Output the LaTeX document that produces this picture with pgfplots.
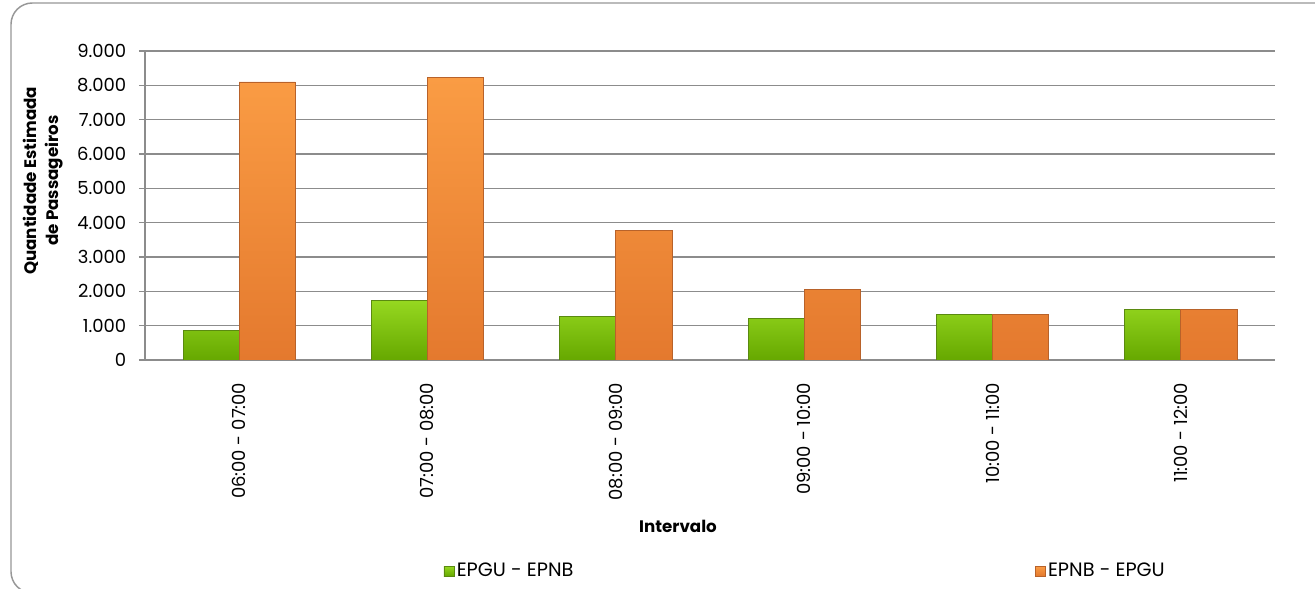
\documentclass[border=0pt]{standalone}
\usepackage{pgfplots}
\pgfplotsset{compat=1.18}
\usepackage{fontspec}
\setmainfont{Poppins}
\definecolor{gridgray}{HTML}{8C8C8C}
\definecolor{gtop}{HTML}{96D820}
\definecolor{gbot}{HTML}{66A800}
\definecolor{gedge}{HTML}{5A8A10}
\definecolor{otop}{HTML}{FA9C44}
\definecolor{obot}{HTML}{E4792E}
\definecolor{oedge}{HTML}{B8622A}
\begin{document}
\begin{tikzpicture}
\useasboundingbox (0pt,0pt) rectangle (986.25pt,441.75pt);
\draw[gridgray!90, line width=1.1pt, rounded corners=16pt] (997.5pt,439.5pt) -- (8.25pt,439.5pt) -- (8.25pt,-3pt) -- (60pt,-3pt);
\begin{axis}[
  at={(108.75pt,171.75pt)}, anchor=south west,
  scale only axis, width=847.5pt, height=231.75pt,
  xmin=-0.5, xmax=5.5, ymin=0, ymax=9000,
  axis lines=left, axis line style={gridgray, line width=1pt, -},
  ybar, bar width=0.298,
  xtick={0,1,2,3,4,5},
  xticklabels={06:00 - 07:00,07:00 - 08:00,08:00 - 09:00,09:00 - 10:00,10:00 - 11:00,11:00 - 12:00},
  major x tick style={draw=none},
  extra x ticks={-0.5,0.5,1.5,2.5,3.5,4.5,5.5},
  extra x tick labels={},
  extra x tick style={major tick length=6pt, tick align=outside, tick style={gridgray, line width=1pt}, grid=none},
  x tick label style={rotate=90, anchor=east, font=\fontsize{13.5}{15}\selectfont, xshift=-9pt},
  ytick={0,1000,...,9000},
  ymajorgrids, grid style={gridgray, line width=1pt},
  tick align=outside, major tick length=4.5pt,
  y tick style={gridgray, line width=1pt},
  y tick label style={font=\fontsize{13.5}{15}\selectfont, xshift=-6pt},
  /pgf/number format/.cd, 1000 sep={.}, assume math mode=true, /pgfplots/.cd,
  xlabel={\textbf{Intervalo}},
  xlabel style={at={(axis description cs:0.4717,-0.54)}, anchor=center, font=\fontsize{12.5}{14}\selectfont},
  ylabel={\textbf{Quantidade Estimada}\\\textbf{de Passageiros}},
  ylabel style={at={(axis description cs:-0.0903,0.58)}, anchor=center, rotate=0, align=center, font=\fontsize{12.5}{17}\selectfont},
  legend columns=2,
  legend style={draw=none, at={(axis description cs:0.264,-0.683)}, anchor=west, font=\fontsize{14.5}{16}\selectfont, inner sep=0pt,
    /tikz/every even column/.append style={column sep=344pt}},
  legend image code/.code={\draw[#1, line width=0.4pt] (0pt,-3.75pt) rectangle (7.5pt,3.75pt);},
]
\addplot[bar shift=-0.149, draw=gedge, line width=0.6pt, top color=gtop, bottom color=gbot] coordinates {(0,850) (1,1740) (2,1280) (3,1220) (4,1320) (5,1460)};
\addlegendentry{EPGU - EPNB}
\addplot[bar shift=0.149, draw=oedge, line width=0.6pt, top color=otop, bottom color=obot] coordinates {(0,8100) (1,8240) (2,3780) (3,2050) (4,1320) (5,1460)};
\addlegendentry{EPNB - EPGU}
\end{axis}
\end{tikzpicture}
\end{document}
